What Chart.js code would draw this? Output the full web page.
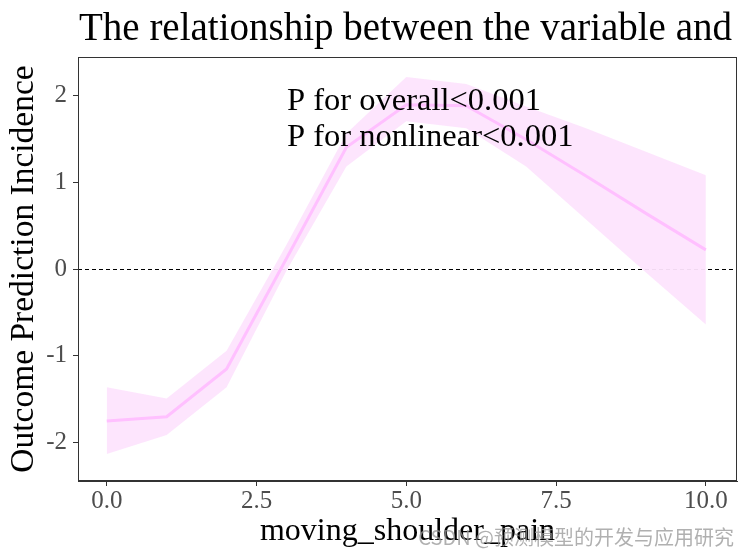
<!DOCTYPE html>
<html>
<head>
<meta charset="utf-8">
<script src="https://cdn.jsdelivr.net/npm/chart.js@4.4.1/dist/chart.umd.min.js"></script>
<style>
    html, body { margin: 0; padding: 0; background: #fff; }
    #wrap { width: 746px; height: 555px; }
</style>
</head>
<body>
<div id="wrap"><canvas id="rcsChart"></canvas></div>
<script>
// 読み取った値
const xValues = [0, 1, 2, 3, 4, 5, 6, 7, 8, 9, 10];
const fitValues = [-1.75, -1.70, -1.15, 0.12, 1.40, 1.89, 1.88, 1.49, 1.07, 0.64, 0.22];
const upperValues = [-1.36, -1.49, -0.94, 0.28, 1.56, 2.21, 2.13, 1.87, 1.62, 1.35, 1.08];
const lowerValues = [-2.13, -1.91, -1.36, -0.02, 1.18, 1.70, 1.62, 1.18, 0.57, -0.04, -0.64];
const xTicks = [0, 2.5, 5, 7.5, 10];
const yTicks = [-2, -1, 0, 1, 2];
const refValue = 0;

const titleText = 'The relationship between the variable and';
const xTitle = 'moving_shoulder_pain';
const yTitle = 'Outcome Prediction Incidence';
const noteLines = ['P for overall<0.001', 'P for nonlinear<0.001'];
const watermark = 'CSDN @预测模型的开发与应用研究';

const serif = '"Liberation Serif", "Times New Roman", serif';
const toPoints = ys => xValues.map((x, i) => ({ x: x, y: ys[i] }));

// 枠線・参照線・注記
const decorPlugin = {
    id: 'decor',
    beforeDatasetsDraw(chart) {
        const { ctx, chartArea: a, scales } = chart;
        const y0 = scales.y.getPixelForValue(refValue);
        ctx.save();
        ctx.strokeStyle = '#000';
        ctx.lineWidth = 1;
        ctx.setLineDash([4, 3]);
        ctx.beginPath();
        ctx.moveTo(a.left, Math.round(y0) + 0.5);
        ctx.lineTo(a.right, Math.round(y0) + 0.5);
        ctx.stroke();
        ctx.restore();
    },
    afterDraw(chart) {
        const { ctx, chartArea: a } = chart;
        ctx.save();
        ctx.strokeStyle = '#333';
        ctx.lineWidth = 1;
        ctx.strokeRect(a.left + 0.5, a.top + 0.5, a.right - a.left - 1, a.bottom - a.top - 1);

        ctx.fillStyle = '#000';
        ctx.textBaseline = 'alphabetic';
        ctx.textAlign = 'left';
        ctx.font = '39px ' + serif;
        ctx.fillText(titleText, 79, 40);

        ctx.font = '32.5px ' + serif;
        noteLines.forEach((t, i) => ctx.fillText(t, 287, 110 + i * 36));

        ctx.font = '20px "Noto Sans CJK SC", sans-serif';
        ctx.fillStyle = 'rgba(150, 150, 150, 0.75)';
        ctx.textAlign = 'right';
        ctx.fillText(watermark, 734, 545);
        ctx.restore();
    }
};

new Chart(document.getElementById('rcsChart'), {
    type: 'line',
    data: {
        datasets: [
            {
                label: 'upper',
                data: toPoints(upperValues),
                borderWidth: 0,
                pointRadius: 0,
                backgroundColor: 'rgba(253, 228, 253, 0.95)',
                fill: '+1',
                order: 2
            },
            {
                label: 'lower',
                data: toPoints(lowerValues),
                borderWidth: 0,
                pointRadius: 0,
                fill: false,
                order: 2
            },
            {
                label: 'fit',
                data: toPoints(fitValues),
                borderColor: '#FFC0FF',
                borderWidth: 3,
                pointRadius: 0,
                fill: false,
                tension: 0,
                order: 1
            }
        ]
    },
    options: {
        responsive: true,
        maintainAspectRatio: false,
        animation: false,
        layout: {
            padding: { top: 57, right: 9, left: 0, bottom: 0 }
        },
        plugins: {
            legend: { display: false },
            tooltip: { enabled: false }
        },
        scales: {
            x: {
                type: 'linear',
                min: -0.48,
                max: 10.52,
                afterBuildTicks: s => { s.ticks = xTicks.map(v => ({ value: v })); },
                afterFit: s => { s.height = 74; },
                grid: { drawOnChartArea: false, drawTicks: true, tickLength: 5, color: '#333' },
                border: { display: true, color: '#333' },
                ticks: {
                    color: '#4d4d4d',
                    padding: 0,
                    maxRotation: 0,
                    font: { family: serif, size: 25 },
                    callback: v => v.toFixed(1)
                },
                title: {
                    display: true,
                    text: xTitle,
                    color: '#000',
                    font: { family: serif, size: 32 },
                    padding: { top: 0, bottom: 4 }
                }
            },
            y: {
                min: -2.44,
                max: 2.44,
                afterBuildTicks: s => { s.ticks = yTicks.map(v => ({ value: v })); },
                afterFit: s => { s.width = 78; },
                grid: { drawOnChartArea: false, drawTicks: true, tickLength: 5, color: '#333' },
                border: { display: true, color: '#333' },
                ticks: {
                    color: '#4d4d4d',
                    padding: 6,
                    font: { family: serif, size: 25 },
                    callback: v => String(v)
                },
                title: {
                    display: true,
                    text: yTitle,
                    color: '#000',
                    font: { family: serif, size: 33.5 },
                    padding: { top: 4, bottom: 0 }
                }
            }
        }
    },
    plugins: [decorPlugin]
});
</script>
</body>
</html>
